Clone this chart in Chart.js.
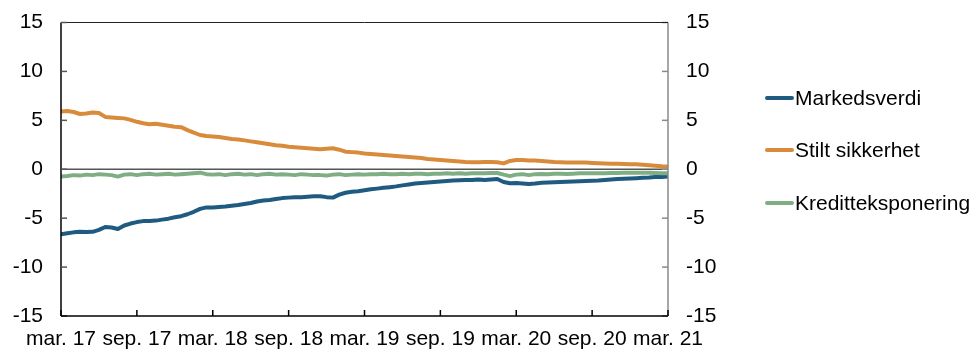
<!DOCTYPE html>
<html>
<head>
<meta charset="utf-8">
<script src="https://cdn.jsdelivr.net/npm/chart.js@4"></script>
<style>
  html, body { margin: 0; padding: 0; background: #fff; }
  #wrap { position: relative; width: 971px; height: 353px; }
  #legend { position: absolute; left: 765px; top: 0; font-family: "Liberation Sans", Arial, sans-serif; font-size: 21px; color: #000; }
  .item { position: absolute; left: 0; white-space: nowrap; height: 24px; line-height: 24px; }
  .sw { position: absolute; left: 0; top: 10px; width: 29px; height: 4px; border-radius: 2px; }
  .lbl { position: absolute; left: 30px; top: 0; }
</style>
</head>
<body>
<div id="wrap">
  <canvas id="c" width="971" height="353"></canvas>
  <div id="legend"></div>
</div>
<script>
// X tick labels (every 6 months, half-month data steps)
const tickLabels = ["mar. 17","sep. 17","mar. 18","sep. 18","mar. 19","sep. 19","mar. 20","sep. 20","mar. 21"];
const seriesNames = ["Markedsverdi","Stilt sikkerhet","Kreditteksponering"];
const seriesColors = ["#1f5a80","#d98b3c","#7fae85"];

// Half-monthly readings from mar. 17 to mar. 21 (97 points)
const markedsverdi = [
  -6.65,-6.55,-6.45,-6.38,-6.42,-6.4,-6.2,-5.9,-5.95,-6.1,
  -5.75,-5.55,-5.4,-5.3,-5.3,-5.25,-5.15,-5.05,-4.9,-4.8,
  -4.6,-4.35,-4.05,-3.9,-3.9,-3.85,-3.8,-3.72,-3.65,-3.55,
  -3.45,-3.3,-3.2,-3.15,-3.05,-2.95,-2.9,-2.85,-2.85,-2.8,
  -2.75,-2.75,-2.85,-2.9,-2.6,-2.4,-2.3,-2.25,-2.15,-2.05,
  -1.98,-1.9,-1.83,-1.75,-1.65,-1.55,-1.45,-1.4,-1.35,-1.3,
  -1.25,-1.2,-1.15,-1.12,-1.1,-1.1,-1.05,-1.1,-1.05,-1.0,
  -1.3,-1.43,-1.4,-1.45,-1.5,-1.45,-1.38,-1.35,-1.33,-1.3,
  -1.28,-1.25,-1.22,-1.2,-1.18,-1.15,-1.1,-1.05,-1.0,-0.97,
  -0.95,-0.92,-0.88,-0.85,-0.8,-0.78,-0.75
];
const stiltSikkerhet = [
  5.9,5.95,5.85,5.65,5.7,5.8,5.75,5.35,5.3,5.25,
  5.2,5.05,4.85,4.7,4.6,4.65,4.55,4.45,4.35,4.3,
  4.0,3.75,3.5,3.4,3.35,3.3,3.2,3.1,3.05,2.95,
  2.85,2.75,2.65,2.55,2.45,2.4,2.3,2.25,2.2,2.15,
  2.1,2.05,2.1,2.15,2.0,1.8,1.75,1.7,1.6,1.55,
  1.5,1.45,1.4,1.35,1.3,1.25,1.2,1.15,1.05,1.0,
  0.95,0.9,0.85,0.8,0.75,0.72,0.72,0.75,0.75,0.72,
  0.6,0.85,0.95,0.95,0.9,0.9,0.85,0.8,0.75,0.72,
  0.7,0.7,0.68,0.68,0.65,0.62,0.6,0.57,0.55,0.53,
  0.5,0.5,0.45,0.4,0.35,0.3,0.27
];
const kreditteksponering = [
  -0.75,-0.7,-0.6,-0.65,-0.55,-0.6,-0.5,-0.55,-0.6,-0.75,
  -0.55,-0.5,-0.6,-0.5,-0.45,-0.55,-0.5,-0.45,-0.55,-0.5,
  -0.45,-0.4,-0.35,-0.5,-0.55,-0.5,-0.6,-0.5,-0.45,-0.55,
  -0.5,-0.6,-0.5,-0.45,-0.55,-0.5,-0.55,-0.6,-0.5,-0.55,
  -0.6,-0.6,-0.65,-0.55,-0.5,-0.6,-0.55,-0.5,-0.55,-0.5,
  -0.5,-0.45,-0.5,-0.5,-0.45,-0.5,-0.45,-0.45,-0.5,-0.45,
  -0.45,-0.4,-0.45,-0.42,-0.45,-0.4,-0.42,-0.4,-0.38,-0.38,
  -0.55,-0.7,-0.55,-0.5,-0.6,-0.5,-0.48,-0.5,-0.45,-0.45,
  -0.48,-0.45,-0.42,-0.42,-0.4,-0.42,-0.4,-0.38,-0.38,-0.36,
  -0.35,-0.35,-0.35,-0.35,-0.38,-0.4,-0.4
];
const yTicks = [-15,-10,-5,0,5,10,15];

const allSeries = [markedsverdi, stiltSikkerhet, kreditteksponering];
const FONT = { family: '"Liberation Sans", Arial, sans-serif', size: 21 };

const datasets = allSeries.map((arr, k) => ({
  label: seriesNames[k],
  data: arr.map((v, i) => ({ x: i / 2, y: v })),
  borderColor: seriesColors[k],
  backgroundColor: seriesColors[k],
  borderWidth: 4,
  pointRadius: 0,
  tension: 0,
  borderJoinStyle: 'round',
  borderCapStyle: 'round',
  yAxisID: 'y'
})).reverse();

const framePlugin = {
  id: 'frame',
  beforeDatasetsDraw(chart) {
    const { ctx, chartArea: a, scales } = chart;
    const y = scales.y;
    ctx.save();
    ctx.strokeStyle = '#555';
    ctx.lineWidth = 1.5;
    const y0 = y.getPixelForValue(0);
    ctx.beginPath(); ctx.moveTo(a.left, y0); ctx.lineTo(a.right, y0); ctx.stroke();
    ctx.restore();
  },
  afterDatasetsDraw(chart) {
    const { ctx, chartArea: a, scales } = chart;
    const y = scales.y, x = scales.x;
    ctx.save();
    ctx.strokeStyle = '#8a8a8a'; ctx.lineWidth = 1.5;
    ctx.beginPath(); ctx.moveTo(a.right, a.top); ctx.lineTo(a.right, a.bottom); ctx.stroke();
    yTicks.forEach(v => {
      const p = y.getPixelForValue(v);
      ctx.beginPath(); ctx.moveTo(a.right - 6, p); ctx.lineTo(a.right, p); ctx.stroke();
    });
    ctx.strokeStyle = '#222'; ctx.lineWidth = 1;
    ctx.beginPath(); ctx.moveTo(a.left, a.top); ctx.lineTo(a.right, a.top); ctx.stroke();
    ctx.strokeStyle = '#000'; ctx.lineWidth = 1.5;
    ctx.beginPath(); ctx.moveTo(a.left, a.top); ctx.lineTo(a.left, a.bottom); ctx.stroke();
    ctx.strokeStyle = '#555';
    yTicks.forEach(v => {
      const p = y.getPixelForValue(v);
      ctx.beginPath(); ctx.moveTo(a.left, p); ctx.lineTo(a.left + 6, p); ctx.stroke();
    });
    ctx.strokeStyle = '#000'; ctx.lineWidth = 1.5;
    ctx.beginPath(); ctx.moveTo(a.left, a.bottom); ctx.lineTo(a.right, a.bottom); ctx.stroke();
    tickLabels.forEach((_, i) => {
      const p = x.getPixelForValue(i * 6);
      ctx.beginPath(); ctx.moveTo(p, a.bottom); ctx.lineTo(p, a.bottom - 6); ctx.stroke();
    });
    ctx.restore();
  }
};

function fitY(w) {
  return function (s) { s.width = w; s.paddingTop = 0; s.paddingBottom = 0; };
}

new Chart(document.getElementById('c'), {
  type: 'line',
  data: { datasets },
  options: {
    responsive: false,
    animation: false,
    layout: { padding: { top: 22.5, right: 243, bottom: 0, left: 0 } },
    plugins: { legend: { display: false }, tooltip: { enabled: false } },
    scales: {
      x: {
        type: 'linear', min: 0, max: 48,
        afterBuildTicks(s) { s.ticks = tickLabels.map((_, i) => ({ value: i * 6 })); },
        afterFit(s) { s.height = 37; s.paddingLeft = 0; s.paddingRight = 0; },
        grid: { display: false, drawTicks: false },
        border: { display: false },
        ticks: {
          font: FONT, color: '#000', padding: 11, maxRotation: 0, autoSkip: false,
          callback: (v) => tickLabels[Math.round(v / 6)]
        }
      },
      y: {
        position: 'left', min: -15, max: 15,
        afterBuildTicks(s) { s.ticks = yTicks.map(v => ({ value: v })); },
        afterFit: fitY(61),
        grid: { display: false, drawTicks: false },
        border: { display: false },
        ticks: { font: FONT, color: '#000', padding: 18 }
      },
      y2: {
        position: 'right', min: -15, max: 15,
        afterBuildTicks(s) { s.ticks = yTicks.map(v => ({ value: v })); },
        afterFit: fitY(60),
        grid: { display: false, drawTicks: false },
        border: { display: false },
        ticks: { font: FONT, color: '#000', padding: 18 }
      }
    }
  },
  plugins: [framePlugin]
});

const legend = document.getElementById('legend');
const legendTops = [85.5, 138, 190.5];
seriesNames.forEach((n, k) => {
  const it = document.createElement('div');
  it.className = 'item';
  it.style.top = legendTops[k] + 'px';
  it.innerHTML = '<span class="sw" style="background:' + seriesColors[k] + '"></span><span class="lbl">' + n + '</span>';
  legend.appendChild(it);
});
</script>
</body>
</html>
